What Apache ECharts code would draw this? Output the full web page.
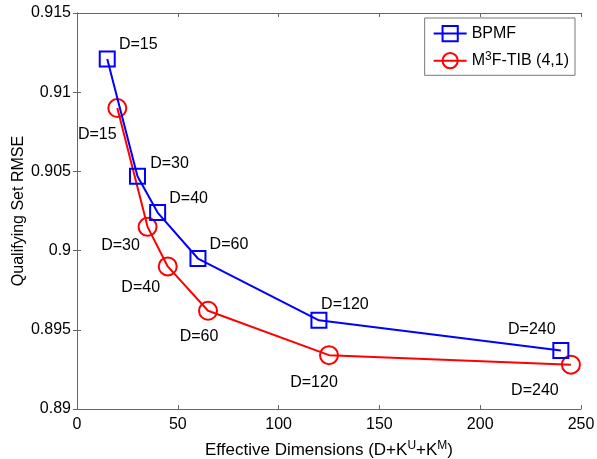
<!DOCTYPE html>
<html>
<head>
<meta charset="utf-8">
<script src="https://cdn.jsdelivr.net/npm/echarts@6/dist/echarts.min.js"></script>
<style>html,body{margin:0;padding:0;background:#fff}#c{width:597px;height:459px}</style>
</head>
<body>
<div id="c"></div>
<script>
// ---- data ----
const dLabels = ['D=15', 'D=30', 'D=40', 'D=60', 'D=120', 'D=240'];
const bpmfX = [15, 30, 40, 60, 120, 240];
const bpmfY = [0.9121, 0.9047, 0.9024, 0.8995, 0.8956, 0.8937];
const m3fX = [20, 35, 45, 65, 125, 245];
const m3fY = [0.9090, 0.9015, 0.8990, 0.8962, 0.8934, 0.8928];
const xTicks = [0, 50, 100, 150, 200, 250];
const yTicks = [0.89, 0.895, 0.9, 0.905, 0.91, 0.915];

// ---- label layout (pixel offsets from marker centre) ----
const bpmfLabelOffsets = [[31, -14], [32, -13], [31, -14], [31, -14], [26, -16], [-29, -21]];
const m3fLabelOffsets = [[-20, 27], [-27, 19], [-27, 21], [-9, 26], [-15, 27], [-36, 26]];

const FONT = 'Liberation Sans';
const FS = 16;

function buildData(xs, ys, offs) {
  return xs.map((x, i) => ({
    value: [x, ys[i]],
    label: {
      show: true,
      formatter: dLabels[i],
      position: 'inside',
      offset: offs[i],
      align: 'center',
      verticalAlign: 'middle',
      color: '#000',
      fontFamily: FONT,
      fontSize: FS
    }
  }));
}

const chart = echarts.init(document.getElementById('c'), null, { renderer: 'canvas' });
const axisColor = '#666';
const supStyle = { fontSize: 12, fontFamily: FONT, color: '#000', padding: [0, 0, 9, 0] };
const baseX = {
  type: 'value', min: xTicks[0], max: xTicks[xTicks.length - 1], interval: 50,
  axisLine: { show: true, lineStyle: { color: axisColor, width: 1 } },
  axisTick: { show: true, inside: true, length: 4, lineStyle: { color: axisColor } },
  splitLine: { show: false }
};
const baseY = {
  type: 'value', min: yTicks[0], max: yTicks[yTicks.length - 1], interval: 0.005,
  axisLine: { show: true, lineStyle: { color: axisColor, width: 1 } },
  axisTick: { show: true, inside: true, length: 4, lineStyle: { color: axisColor } },
  splitLine: { show: false }
};

chart.setOption({
  backgroundColor: '#fff',
  animation: false,
  textStyle: { fontFamily: FONT },
  grid: { left: 77, right: 16, top: 13, bottom: 50, outerBoundsMode: 'none', containLabel: false },
  legend: {
    orient: 'vertical',
    right: 22, top: 18,
    backgroundColor: '#fff',
    borderColor: '#777', borderWidth: 1, borderRadius: 0,
    padding: [7, 6, 6, 8],
    itemGap: 8,
    itemWidth: 33, itemHeight: 19,
    textStyle: {
      color: '#000', fontFamily: FONT, fontSize: FS,
      rich: { sup: supStyle }
    },
    formatter: function (n) { return n === 'BPMF' ? 'BPMF' : 'M{sup|3}F-TIB (4,1)'; },
    data: ['BPMF', 'M3F-TIB (4,1)']
  },
  xAxis: [
    Object.assign({}, baseX, {
      position: 'bottom',
      axisLabel: { color: '#000', fontSize: FS, fontFamily: FONT, margin: 8 },
      name: 'Effective Dimensions (D+K{sup|U}+K{sup|M})',
      nameLocation: 'middle', nameGap: 31, nameMoveOverlap: false,
      nameTextStyle: {
        color: '#000', fontSize: 17, fontFamily: FONT,
        rich: { sup: supStyle }
      }
    }),
    Object.assign({}, baseX, { position: 'top', axisLabel: { show: false } })
  ],
  yAxis: [
    Object.assign({}, baseY, {
      position: 'left',
      axisLabel: {
        color: '#000', fontSize: FS, fontFamily: FONT, margin: 6,
        formatter: v => String(+v.toFixed(3))
      },
      name: 'Qualifying Set RMSE',
      nameLocation: 'middle', nameGap: 50, nameMoveOverlap: false,
      nameTextStyle: { color: '#000', fontSize: FS, fontFamily: FONT }
    }),
    Object.assign({}, baseY, { position: 'right', axisLabel: { show: false } })
  ],
  series: [
    {
      name: 'BPMF', type: 'line',
      xAxisIndex: 0, yAxisIndex: 0,
      color: '#0000ff',
      symbol: 'rect', symbolSize: 15,
      lineStyle: { color: '#0000ff', width: 2 },
      itemStyle: { color: 'rgba(0,0,0,0)', borderColor: '#0000ff', borderWidth: 2 },
      data: buildData(bpmfX, bpmfY, bpmfLabelOffsets),
      z: 3
    },
    {
      name: 'M3F-TIB (4,1)', type: 'line',
      xAxisIndex: 0, yAxisIndex: 0,
      color: '#ff0000',
      symbol: 'circle', symbolSize: 18,
      lineStyle: { color: '#ff0000', width: 2 },
      itemStyle: { color: 'rgba(0,0,0,0)', borderColor: '#ff0000', borderWidth: 2 },
      data: buildData(m3fX, m3fY, m3fLabelOffsets),
      z: 2
    }
  ]
});
</script>
</body>
</html>
